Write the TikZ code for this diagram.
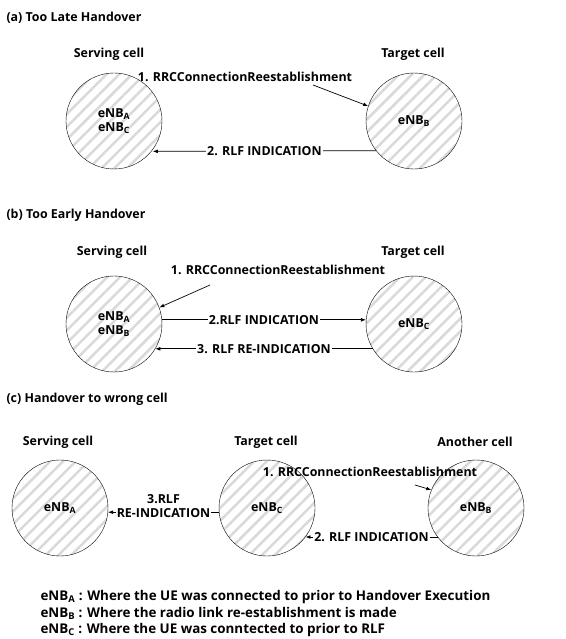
\documentclass[tikz,border=0pt]{standalone}
\usepackage{fontspec}
\setmainfont{Open Sans}
\usepackage{tikz}
\usetikzlibrary{arrows.meta,patterns.meta}

\newcommand{\figfont}{\fontsize{12.4}{14}\selectfont\bfseries}
\newcommand{\legfont}{\fontsize{13.4}{15}\selectfont\bfseries}

\tikzset{
	cell/.style={circle,draw,minimum size=96pt,inner sep=0pt,align=center,
		pattern={Lines[angle=45,distance=9pt,line width=2.5pt]},pattern color=black!15},
	msg/.style={fill=white,inner sep=1pt}
}

\begin{document}
\begin{tikzpicture}[x=1pt,y=-1pt,every node/.style={font=\figfont}]
\useasboundingbox (0,0) rectangle (565,639);

% titles
\begin{scope}[every node/.style={anchor=west,font=\figfont}]
	\node (titleA) at (3,18)  {(a) Too Late Handover};
	\node (titleB) at (3,215) {(b) Too Early Handover};
	\node (titleC) at (3,399) {(c) Handover to wrong cell};
\end{scope}

% (a)
\node (servAtxt) at (109,54) {Serving cell};
\node (targAtxt) at (413,54) {Target cell};
\node[cell] (servA) at (114,121) {eNB\textsubscript{A}\\eNB\textsubscript{C}};
\node[cell] (targA) at (414,121) {eNB\textsubscript{B}};
\node (rrcA) at (245,77) {1. RRCConnectionReestablishment};
\coordinate (rrcAstart) at (313,85);

% (b)
\node (servBtxt) at (112,252) {Serving cell};
\node (targBtxt) at (413,252) {Target cell};
\node[cell] (servB) at (114,324) {eNB\textsubscript{A}\\eNB\textsubscript{B}};
\node[cell] (targB) at (414,324) {eNB\textsubscript{C}};
\node (rrcB) at (278,270) {1. RRCConnectionReestablishment};
\coordinate (rrcBstart) at (210,285);

% (c)
\node (servCtxt) at (58,442)  {Serving cell};
\node (targCtxt) at (266,442) {Target cell};
\node (anotCtxt) at (475,442) {Another cell};
\node[cell] (servC) at (60,508)  {eNB\textsubscript{A}};
\node[cell] (targC) at (267,508) {eNB\textsubscript{C}};
\node[cell] (anotC) at (476,508) {eNB\textsubscript{B}};
\node (rrcC) at (370,472) {1. RRCConnectionReestablishment};
\coordinate (rrcCstart) at (415,485);

% legend
\begin{scope}[every node/.style={anchor=west,font=\legfont}]
	\node (legA) at (37,597) {eNB\textsubscript{A} : Where the UE was connected to prior to Handover Execution};
	\node (legB) at (37,613) {eNB\textsubscript{B} : Where the radio link re-establishment is made};
	\node (legC) at (37,630) {eNB\textsubscript{C} : Where the UE was conntected to prior to RLF};
\end{scope}

\begin{scope}[line width=0.7pt]
	\draw[-{Latex[length=5pt]}] (rrcAstart) -- (targA.162);
	\draw[-{Latex[length=5pt]}] (targA.218) -- node[msg] {2. RLF INDICATION} (servA.-38);

	\draw[-{Latex[length=5pt]}] (rrcBstart) -- (servB.20);
	\draw[-{Latex[length=5pt]}] (servB.5) -- node[msg] {2.RLF INDICATION} (targB.175);
	\draw[-{Latex[length=5pt]}] (targB.211) -- node[msg] {3. RLF RE-INDICATION} (servB.-31);

	\draw[-{Latex[length=5pt]}] (rrcCstart) -- (anotC.158);
	\draw[-{Latex[length=5pt]}] (anotC.217) -- node[msg] {2. RLF INDICATION} (targC.-37);
	\draw[-{Latex[length=5pt]}] (targC.185) -- node[msg,align=center,yshift=6pt] {3.RLF\\RE-INDICATION} (servC.-5);
\end{scope}
\end{tikzpicture}
\end{document}
